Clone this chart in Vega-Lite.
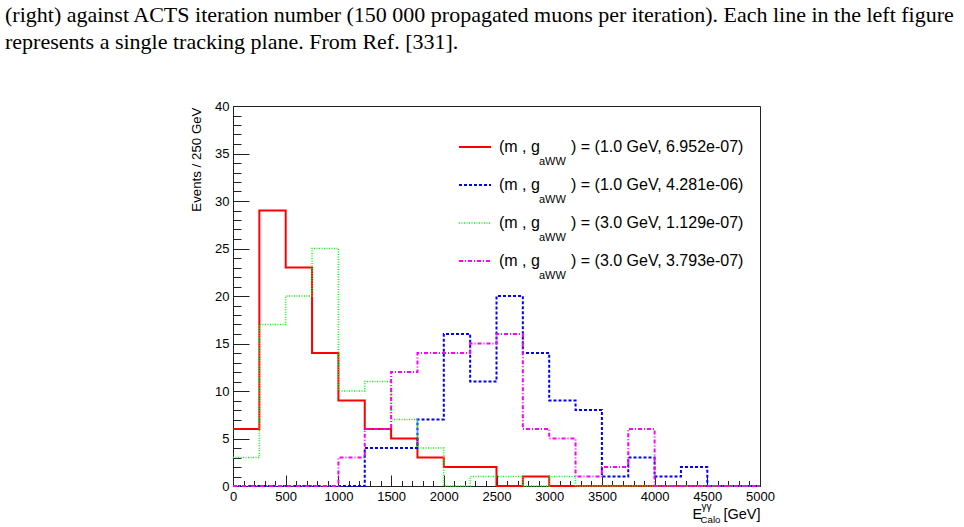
{
  "$schema": "https://vega.github.io/schema/vega-lite/v6.json",
  "width": 527,
  "height": 380,
  "autosize": {"type": "none"},
  "padding": {"left": 233, "top": 106, "right": 204, "bottom": 41},
  "background": "white",
  "title": {
    "text": ["(right) against ACTS iteration number (150 000 propagated muons per iteration). Each line in the left figure", "represents a single tracking plane. From Ref. [331]."],
    "anchor": "start",
    "frame": "group",
    "font": "Liberation Serif",
    "fontSize": 22,
    "fontWeight": "normal",
    "color": "#000",
    "lineHeight": 27,
    "dx": -228,
    "dy": -46,
    "offset": 0
  },
  "data": {
    "values": [
      {"s": "1.0 GeV, 6.952e-07", "x": 0, "n": 6},
      {"s": "1.0 GeV, 6.952e-07", "x": 250, "n": 29},
      {"s": "1.0 GeV, 6.952e-07", "x": 500, "n": 23},
      {"s": "1.0 GeV, 6.952e-07", "x": 750, "n": 14},
      {"s": "1.0 GeV, 6.952e-07", "x": 1000, "n": 9},
      {"s": "1.0 GeV, 6.952e-07", "x": 1250, "n": 6},
      {"s": "1.0 GeV, 6.952e-07", "x": 1500, "n": 5},
      {"s": "1.0 GeV, 6.952e-07", "x": 1750, "n": 3},
      {"s": "1.0 GeV, 6.952e-07", "x": 2000, "n": 2},
      {"s": "1.0 GeV, 6.952e-07", "x": 2250, "n": 2},
      {"s": "1.0 GeV, 6.952e-07", "x": 2500, "n": 0},
      {"s": "1.0 GeV, 6.952e-07", "x": 2750, "n": 1},
      {"s": "1.0 GeV, 6.952e-07", "x": 3000, "n": 0},
      {"s": "1.0 GeV, 6.952e-07", "x": 3250, "n": 0},
      {"s": "1.0 GeV, 6.952e-07", "x": 3500, "n": 0},
      {"s": "1.0 GeV, 6.952e-07", "x": 3750, "n": 0},
      {"s": "1.0 GeV, 6.952e-07", "x": 4000, "n": 0},
      {"s": "1.0 GeV, 6.952e-07", "x": 4250, "n": 0},
      {"s": "1.0 GeV, 6.952e-07", "x": 4500, "n": 0},
      {"s": "1.0 GeV, 6.952e-07", "x": 4750, "n": 0},
      {"s": "1.0 GeV, 6.952e-07", "x": 5000, "n": 0},
      {"s": "1.0 GeV, 4.281e-06", "x": 0, "n": 0},
      {"s": "1.0 GeV, 4.281e-06", "x": 250, "n": 0},
      {"s": "1.0 GeV, 4.281e-06", "x": 500, "n": 0},
      {"s": "1.0 GeV, 4.281e-06", "x": 750, "n": 0},
      {"s": "1.0 GeV, 4.281e-06", "x": 1000, "n": 0},
      {"s": "1.0 GeV, 4.281e-06", "x": 1250, "n": 4},
      {"s": "1.0 GeV, 4.281e-06", "x": 1500, "n": 4},
      {"s": "1.0 GeV, 4.281e-06", "x": 1750, "n": 7},
      {"s": "1.0 GeV, 4.281e-06", "x": 2000, "n": 16},
      {"s": "1.0 GeV, 4.281e-06", "x": 2250, "n": 11},
      {"s": "1.0 GeV, 4.281e-06", "x": 2500, "n": 20},
      {"s": "1.0 GeV, 4.281e-06", "x": 2750, "n": 14},
      {"s": "1.0 GeV, 4.281e-06", "x": 3000, "n": 9},
      {"s": "1.0 GeV, 4.281e-06", "x": 3250, "n": 8},
      {"s": "1.0 GeV, 4.281e-06", "x": 3500, "n": 1},
      {"s": "1.0 GeV, 4.281e-06", "x": 3750, "n": 3},
      {"s": "1.0 GeV, 4.281e-06", "x": 4000, "n": 1},
      {"s": "1.0 GeV, 4.281e-06", "x": 4250, "n": 2},
      {"s": "1.0 GeV, 4.281e-06", "x": 4500, "n": 0},
      {"s": "1.0 GeV, 4.281e-06", "x": 4750, "n": 0},
      {"s": "1.0 GeV, 4.281e-06", "x": 5000, "n": 0},
      {"s": "3.0 GeV, 1.129e-07", "x": 0, "n": 3},
      {"s": "3.0 GeV, 1.129e-07", "x": 250, "n": 17},
      {"s": "3.0 GeV, 1.129e-07", "x": 500, "n": 20},
      {"s": "3.0 GeV, 1.129e-07", "x": 750, "n": 25},
      {"s": "3.0 GeV, 1.129e-07", "x": 1000, "n": 10},
      {"s": "3.0 GeV, 1.129e-07", "x": 1250, "n": 11},
      {"s": "3.0 GeV, 1.129e-07", "x": 1500, "n": 7},
      {"s": "3.0 GeV, 1.129e-07", "x": 1750, "n": 4},
      {"s": "3.0 GeV, 1.129e-07", "x": 2000, "n": 0},
      {"s": "3.0 GeV, 1.129e-07", "x": 2250, "n": 1},
      {"s": "3.0 GeV, 1.129e-07", "x": 2500, "n": 1},
      {"s": "3.0 GeV, 1.129e-07", "x": 2750, "n": 0},
      {"s": "3.0 GeV, 1.129e-07", "x": 3000, "n": 1},
      {"s": "3.0 GeV, 1.129e-07", "x": 3250, "n": 0},
      {"s": "3.0 GeV, 1.129e-07", "x": 3500, "n": 0},
      {"s": "3.0 GeV, 1.129e-07", "x": 3750, "n": 0},
      {"s": "3.0 GeV, 1.129e-07", "x": 4000, "n": 0},
      {"s": "3.0 GeV, 1.129e-07", "x": 4250, "n": 0},
      {"s": "3.0 GeV, 1.129e-07", "x": 4500, "n": 0},
      {"s": "3.0 GeV, 1.129e-07", "x": 4750, "n": 0},
      {"s": "3.0 GeV, 1.129e-07", "x": 5000, "n": 0},
      {"s": "3.0 GeV, 3.793e-07", "x": 0, "n": 0},
      {"s": "3.0 GeV, 3.793e-07", "x": 250, "n": 0},
      {"s": "3.0 GeV, 3.793e-07", "x": 500, "n": 0},
      {"s": "3.0 GeV, 3.793e-07", "x": 750, "n": 0},
      {"s": "3.0 GeV, 3.793e-07", "x": 1000, "n": 3},
      {"s": "3.0 GeV, 3.793e-07", "x": 1250, "n": 6},
      {"s": "3.0 GeV, 3.793e-07", "x": 1500, "n": 12},
      {"s": "3.0 GeV, 3.793e-07", "x": 1750, "n": 14},
      {"s": "3.0 GeV, 3.793e-07", "x": 2000, "n": 14},
      {"s": "3.0 GeV, 3.793e-07", "x": 2250, "n": 15},
      {"s": "3.0 GeV, 3.793e-07", "x": 2500, "n": 16},
      {"s": "3.0 GeV, 3.793e-07", "x": 2750, "n": 6},
      {"s": "3.0 GeV, 3.793e-07", "x": 3000, "n": 5},
      {"s": "3.0 GeV, 3.793e-07", "x": 3250, "n": 1},
      {"s": "3.0 GeV, 3.793e-07", "x": 3500, "n": 2},
      {"s": "3.0 GeV, 3.793e-07", "x": 3750, "n": 6},
      {"s": "3.0 GeV, 3.793e-07", "x": 4000, "n": 0},
      {"s": "3.0 GeV, 3.793e-07", "x": 4250, "n": 0},
      {"s": "3.0 GeV, 3.793e-07", "x": 4500, "n": 0},
      {"s": "3.0 GeV, 3.793e-07", "x": 4750, "n": 0},
      {"s": "3.0 GeV, 3.793e-07", "x": 5000, "n": 0}
    ]
  },
  "layer": [
    {
      "mark": {"type": "line", "interpolate": "step-after", "strokeCap": "butt", "strokeJoin": "miter"},
      "encoding": {
        "x": {
          "field": "x", "type": "quantitative",
          "scale": {"domain": [0, 5000], "nice": false, "zero": false},
          "axis": {
            "orient": "bottom",
            "values": [0, 500, 1000, 1500, 2000, 2500, 3000, 3500, 4000, 4500, 5000],
            "format": "d",
            "tickSize": -11, "tickColor": "#222", "tickWidth": 1,
            "labelPadding": 15, "labelFont": "Liberation Sans", "labelFontSize": 13, "labelColor": "#000",
            "labelFlush": false, "labelOverlap": false, "labelBound": false,
            "domain": false, "grid": false,
            "title": "[GeV]",
            "titleFont": "Liberation Sans", "titleFontSize": 14.5, "titleFontWeight": "normal", "titleColor": "#000",
            "titleAlign": "right", "titleBaseline": "alphabetic", "titleX": 527, "titleY": 32
          }
        },
        "y": {
          "field": "n", "type": "quantitative",
          "scale": {"domain": [0, 40], "nice": false},
          "axis": {
            "orient": "left",
            "values": [0, 5, 10, 15, 20, 25, 30, 35, 40],
            "tickSize": -16, "tickColor": "#222", "tickWidth": 1,
            "labelPadding": 20, "labelFont": "Liberation Sans", "labelFontSize": 13, "labelColor": "#000",
            "labelFlush": false, "labelOverlap": false, "labelBound": false,
            "domain": false, "grid": false,
            "title": "Events / 250 GeV",
            "titleFont": "Liberation Sans", "titleFontSize": 13.3, "titleFontWeight": "normal", "titleColor": "#000",
            "titleAngle": 270, "titleAlign": "right", "titleBaseline": "middle", "titleX": -37, "titleY": 1
          }
        },
        "color": {
          "field": "s", "type": "nominal",
          "scale": {"domain": ["1.0 GeV, 6.952e-07", "1.0 GeV, 4.281e-06", "3.0 GeV, 1.129e-07", "3.0 GeV, 3.793e-07"], "range": ["#ff0000", "#0000ff", "#00ff00", "#ff00ff"]},
          "legend": {
            "title": null, "orient": "none", "legendX": 225, "legendY": 33, "padding": 0,
            "symbolType": "stroke", "symbolSize": 1024, "labelOffset": 7,
            "labelFont": "Liberation Sans", "labelFontSize": 16, "labelColor": "#000", "labelLimit": 600,
            "rowPadding": 22, "clipHeight": 16,
            "labelExpr": "'(m , g\u00a0\u00a0\u00a0\u00a0\u00a0\u00a0\u00a0) = (' + datum.label + ')'"
          }
        },
        "strokeDash": {
          "field": "s", "type": "nominal",
          "scale": {"domain": ["1.0 GeV, 6.952e-07", "1.0 GeV, 4.281e-06", "3.0 GeV, 1.129e-07", "3.0 GeV, 3.793e-07"], "range": [[1, 0], [3, 2], [1, 1.5], [4, 2, 1, 2]]},
          "legend": {
            "title": null, "orient": "none", "legendX": 225, "legendY": 33, "padding": 0,
            "symbolType": "stroke", "symbolSize": 1024, "labelOffset": 7,
            "labelFont": "Liberation Sans", "labelFontSize": 16, "labelColor": "#000", "labelLimit": 600,
            "rowPadding": 22, "clipHeight": 16,
            "labelExpr": "'(m , g\u00a0\u00a0\u00a0\u00a0\u00a0\u00a0\u00a0) = (' + datum.label + ')'"
          }
        },
        "strokeWidth": {
          "field": "s", "type": "nominal",
          "scale": {"type": "ordinal", "domain": ["1.0 GeV, 6.952e-07", "1.0 GeV, 4.281e-06", "3.0 GeV, 1.129e-07", "3.0 GeV, 3.793e-07"], "range": [2, 2, 1.5, 2]},
          "legend": {
            "title": null, "orient": "none", "legendX": 225, "legendY": 33, "padding": 0,
            "symbolType": "stroke", "symbolSize": 1024, "labelOffset": 7,
            "labelFont": "Liberation Sans", "labelFontSize": 16, "labelColor": "#000", "labelLimit": 600,
            "rowPadding": 22, "clipHeight": 16,
            "labelExpr": "'(m , g\u00a0\u00a0\u00a0\u00a0\u00a0\u00a0\u00a0) = (' + datum.label + ')'"
          }
        },
        "opacity": {
          "field": "s", "type": "nominal",
          "scale": {"type": "ordinal", "range": [1, 1, 1, 1]},
          "legend": {
            "title": null, "orient": "none", "legendX": 295, "legendY": 47.5, "padding": 0,
            "symbolSize": 0, "symbolOpacity": 0, "labelOffset": 0,
            "labelFont": "Liberation Sans", "labelFontSize": 11, "labelColor": "#000", "labelLimit": 100,
            "rowPadding": 22, "clipHeight": 16,
            "labelExpr": "'aWW'"
          }
        }
      }
    },
    {
      "mark": {"type": "point", "opacity": 0},
      "encoding": {
        "x": {
          "field": "x", "type": "quantitative",
          "scale": {"domain": [0, 5000], "nice": false, "zero": false},
          "axis": {
            "orient": "bottom",
            "values": [0, 100, 200, 300, 400, 500, 600, 700, 800, 900, 1000, 1100, 1200, 1300, 1400, 1500, 1600, 1700, 1800, 1900, 2000, 2100, 2200, 2300, 2400, 2500, 2600, 2700, 2800, 2900, 3000, 3100, 3200, 3300, 3400, 3500, 3600, 3700, 3800, 3900, 4000, 4100, 4200, 4300, 4400, 4500, 4600, 4700, 4800, 4900, 5000],
            "tickSize": -5.5, "tickColor": "#222", "tickWidth": 1,
            "labels": false, "domain": false, "grid": false,
            "title": "Calo",
            "titleFont": "Liberation Sans", "titleFontSize": 9.7, "titleFontWeight": "normal", "titleColor": "#000",
            "titleAlign": "left", "titleBaseline": "alphabetic", "titleX": 467, "titleY": 36
          }
        },
        "y": {
          "field": "n", "type": "quantitative",
          "scale": {"domain": [0, 40], "nice": false},
          "axis": {
            "orient": "left",
            "values": [0, 1, 2, 3, 4, 5, 6, 7, 8, 9, 10, 11, 12, 13, 14, 15, 16, 17, 18, 19, 20, 21, 22, 23, 24, 25, 26, 27, 28, 29, 30, 31, 32, 33, 34, 35, 36, 37, 38, 39, 40],
            "tickSize": -8, "tickColor": "#222", "tickWidth": 1,
            "labels": false, "domain": false, "grid": false, "title": null
          }
        }
      }
    },
    {
      "mark": {"type": "point", "opacity": 0},
      "encoding": {
        "x": {
          "field": "x", "type": "quantitative",
          "scale": {"domain": [0, 5000], "nice": false, "zero": false},
          "axis": {
            "orient": "bottom", "ticks": false, "labels": false, "domain": false, "grid": false,
            "title": "\u03b3\u03b3",
            "titleFont": "Liberation Sans", "titleFontSize": 10, "titleFontWeight": "normal", "titleColor": "#000",
            "titleAlign": "left", "titleBaseline": "alphabetic", "titleX": 468, "titleY": 23
          }
        }
      }
    },
    {
      "mark": {"type": "point", "opacity": 0},
      "encoding": {
        "x": {
          "field": "x", "type": "quantitative",
          "scale": {"domain": [0, 5000], "nice": false, "zero": false},
          "axis": {
            "orient": "bottom", "ticks": false, "labels": false, "domain": false, "grid": false,
            "title": "E",
            "titleFont": "Liberation Sans", "titleFontSize": 14.5, "titleFontWeight": "normal", "titleColor": "#000",
            "titleAlign": "left", "titleBaseline": "alphabetic", "titleX": 459, "titleY": 32
          }
        }
      }
    }
  ],
  "resolve": {"axis": {"x": "independent", "y": "independent"}},
  "config": {
    "view": {"stroke": "#222", "strokeWidth": 1},
    "font": "Liberation Sans"
  }
}
